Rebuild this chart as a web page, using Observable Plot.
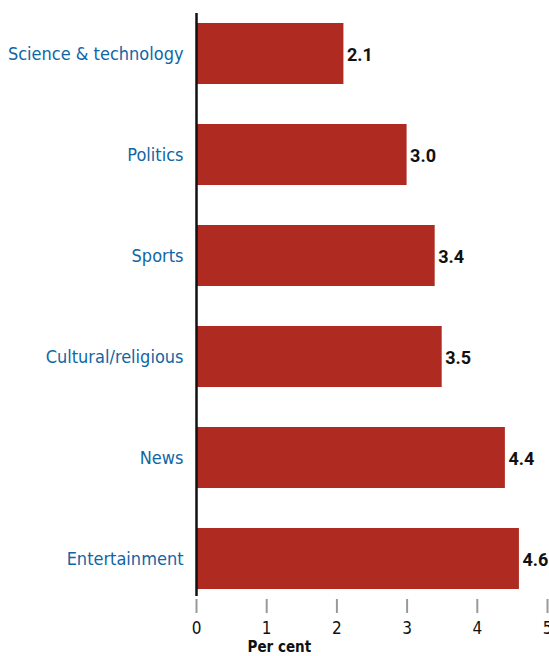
<!DOCTYPE html>
<html><head><meta charset="utf-8">
<script src="https://cdn.jsdelivr.net/npm/d3@7"></script>
<script src="https://cdn.jsdelivr.net/npm/@observablehq/plot@0.6"></script>
<style>
body{margin:0;background:#fff;}
#chart svg{display:block;}
</style>
</head><body><div id="chart"></div>
<script>
const categories = ["Science & technology","Politics","Sports","Cultural/religious","News","Entertainment"];
const values = [2.1, 3.0, 3.4, 3.5, 4.4, 4.6];
const xTicks = [0,1,2,3,4,5];
const xLabel = "Per cent";

const data = categories.map((c,i)=>({category:c, value:values[i]}));
const font = "'DejaVu Sans Condensed', Lato, sans-serif";

const chart = Plot.plot({
  width: 549, height: 656,
  marginLeft: 196, marginRight: 2, marginTop: 3, marginBottom: 47,
  style: {fontFamily: font, fontSize: "18px", background: "#fff"},
  x: {domain: [0,5]},
  y: {domain: categories, paddingInner: 0.4, paddingOuter: 0.2},
  marks: [
    Plot.barX(data, {x: "value", y: "category", fill: "#AF2B22"}),
    Plot.ruleX([0], {stroke: "#111", strokeWidth: 2.5, insetTop: 10, insetBottom: 13}),
    Plot.text(data, {x: "value", y: "category", text: d => d.value.toFixed(1), textAnchor: "start", dx: 3, dy: 1, fontWeight: "bold", fill: "#111", fontSize: 18, fontFamily: "Roboto, sans-serif"}),
    Plot.axisY({tickSize: 0, tickPadding: 13, label: null, fill: "#1066A5", fontSize: 18}),
    Plot.axisX({ticks: xTicks, tickSize: 14, tickPadding: 8, dy: -10, label: null, stroke: "#999", strokeWidth: 2, fill: "#111", fontSize: 17, tickFormat: d => String(d)}),
    Plot.text([xLabel], {frameAnchor: "bottom-left", textAnchor: "start", lineAnchor: "top", dx: 51, dy: 32, fontWeight: "bold", fontSize: 15, fill: "#111"})
  ]
});
document.getElementById("chart").append(chart);
</script>
</body></html>
